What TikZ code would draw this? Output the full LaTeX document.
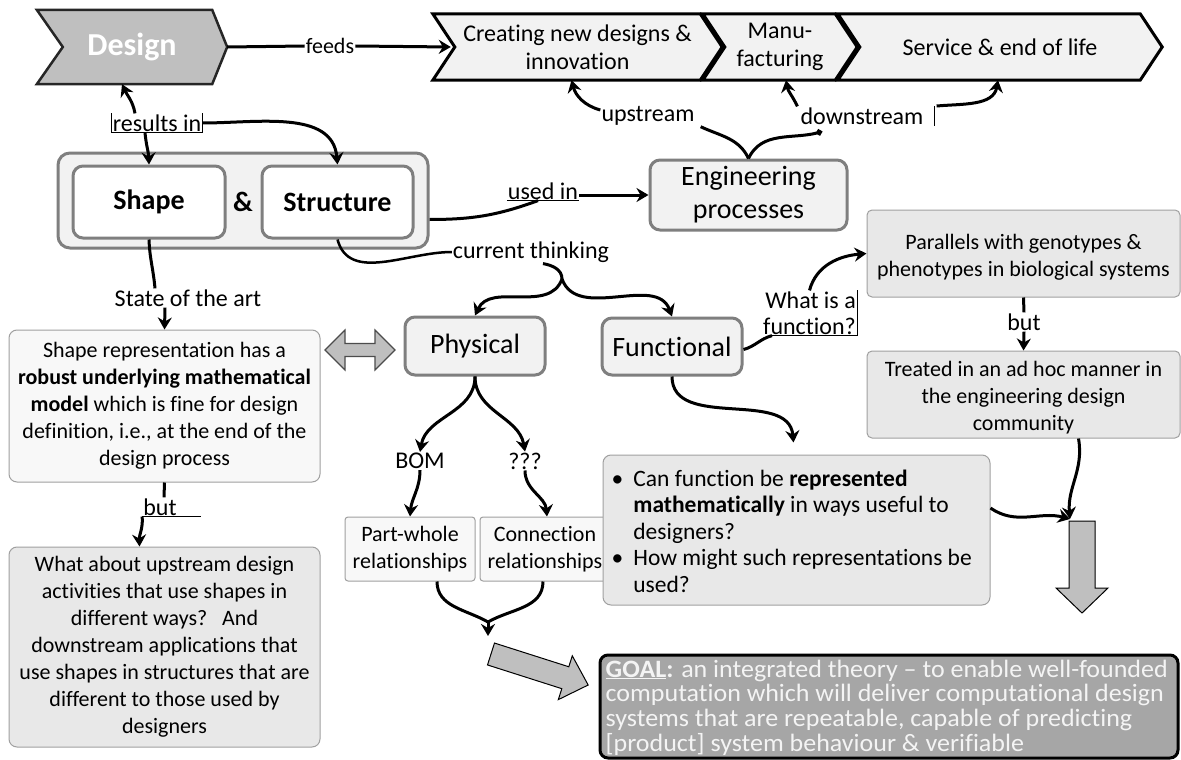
\documentclass[tikz,border=0pt]{standalone}
\usepackage{fontspec}
\setmainfont{Carlito}[Ligatures=NoCommon]
\usetikzlibrary{arrows.meta}
\definecolor{edgegray}{HTML}{7F7F7F}
\definecolor{paleface}{HTML}{F2F2F2}
\definecolor{whiteface}{HTML}{F8F8F8}
\definecolor{lightface}{HTML}{E8E8E8}
\definecolor{midface}{HTML}{BFBFBF}
\definecolor{goalface}{HTML}{A6A6A6}
\definecolor{thinedge}{HTML}{A0A0A0}
\definecolor{goaltext}{HTML}{F4F4F4}
\pgfdeclarelayer{bg}
\pgfsetlayers{bg,main}
\newcommand{\fsz}[2]{\fontsize{#1}{#2}\selectfont}
\begin{document}
\begin{tikzpicture}[x=1pt,y=-1pt,
  every node/.style={inner sep=2pt},
  body/.style={font=\fsz{22}{27}},
  lbl/.style={font=\fsz{24}{26}, inner sep=1pt},
  conn/.style={line width=3pt,-{Stealth[length=12pt,width=14pt,inset=4pt]}},
  link/.style={line width=3pt},
  hair/.style={line width=0.7pt},
  heavybox/.style={draw=edgegray, line width=3pt, rounded corners=10pt, fill=paleface, align=center, font=\fsz{28}{33}},
  lightbox/.style={draw=thinedge, line width=1pt, rounded corners=8pt, align=center, body},
  chevtext/.style={align=center, font=\fsz{24}{28}},
  blockarrow/.style={fill=midface, draw=black, line width=1pt},
]
\useasboundingbox (0,0) rectangle (1181,760);

% ---------- process chain ----------
\node[minimum width=190, minimum height=74, text=white, font=\fsz{32}{34}\bfseries] (design) at (132,47) {Design};
\node[chevtext, minimum width=289, minimum height=66] (ch1) at (577.5,47) {Creating new designs \&\\innovation};
\node[chevtext, minimum width=154, minimum height=66] (ch2) at (780,47) {Manu-\\facturing};
\node[chevtext, minimum width=324, minimum height=66] (ch3) at (1000,47) {Service \& end of life};
\begin{pgfonlayer}{bg}
  \fill[white] (0,0) rectangle (1181,760);
  \filldraw[fill=midface, draw=black!85, line width=2.5pt]
    (design.north west) -- ([xshift=-15]design.north east) -- (design.east)
    -- ([xshift=-15]design.south east) -- (design.south west) -- ([xshift=26]design.west) -- cycle;
  \foreach \c in {ch1,ch2,ch3}
    \filldraw[fill=paleface, draw=black, line width=3pt]
      (\c.north west) -- ([xshift=-22]\c.north east) -- (\c.east)
      -- ([xshift=-22]\c.south east) -- (\c.south west) -- ([xshift=22]\c.west) -- cycle;
\end{pgfonlayer}
\node[font=\fsz{22}{24}, inner sep=1pt] (feeds) at (330,46) {feeds};

% ---------- shape & structure ----------
\node[draw=edgegray, line width=3pt, rounded corners=12pt, fill=paleface, minimum width=370, minimum height=95] (group) at (243,200.5) {};
\node[draw=edgegray, line width=3pt, rounded corners=10pt, fill=white, minimum width=152, minimum height=72, font=\fsz{28}{30}\bfseries] (shapebox) at (149,202) {Shape};
\node[draw=edgegray, line width=3pt, rounded corners=10pt, fill=white, minimum width=151, minimum height=72, font=\fsz{28}{30}\bfseries] (structbox) at (337.5,202) {Structure};
\node[font=\fsz{28}{30}\bfseries] (amp) at (243,202) {\&};

\node[heavybox, minimum width=197, minimum height=70] (eng) at (748.5,195) {Engineering\\processes};
\node[heavybox, minimum width=140, minimum height=58] (phys) at (475,346) {Physical};
\node[heavybox, minimum width=140, minimum height=57] (func) at (672,346.5) {Functional};

% ---------- text boxes ----------
\node[lightbox, fill=whiteface, minimum width=311, minimum height=152] (shaperep) at (164.5,406)
  {Shape representation has a\\\textbf{robust underlying mathematical}\\\textbf{model} which is fine for design\\definition, i.e., at the end of the\\design process};
\node[lightbox, fill=lightface, minimum width=311, minimum height=200] (whatabout) at (164.5,647)
  {What about upstream design\\activities that use shapes in\\different ways?\ \ \ And\\downstream applications that\\use shapes in structures that are\\different to those used by\\designers};
\node[lightbox, fill=whiteface, rounded corners=3pt, minimum width=130, minimum height=64] (partwhole) at (410,549) {Part-whole\\relationships};
\node[lightbox, fill=whiteface, rounded corners=3pt, minimum width=130, minimum height=64] (connection) at (545,549) {Connection\\relationships};
\node[lightbox, fill=lightface, minimum width=387, minimum height=150] (bullets) at (796.5,530) {};
\node[anchor=west, inner sep=0pt, font=\fsz{23.5}{26.5}] (bullettext) at ([xshift=9,yshift=-4]bullets.west)
  {\begin{tabular}{@{}l@{\hspace{10pt}}l@{}}
   \textbullet & Can function be \textbf{represented}\\
               & \textbf{mathematically} in ways useful to\\
               & designers?\\
   \textbullet & How might such representations be\\
               & used?
   \end{tabular}};
\node[lightbox, fill=lightface, rounded corners=5pt, minimum width=313, minimum height=87] (parallels) at (1023.5,253.5) {};
\node[body, align=center] (paralleltext) at ([yshift=-4]parallels.center)
  {Parallels with genotypes \&\\phenotypes in biological systems};
\node[lightbox, fill=lightface, rounded corners=5pt, minimum width=313, minimum height=87] (treated) at (1023.5,394.5) {};
\node[body, align=center] (treatedtext) at ([yshift=-3]treated.center)
  {Treated in an ad hoc manner in\\the engineering design\\community};
\node[draw=black, line width=3pt, rounded corners=8pt, fill=goalface, minimum width=578, minimum height=103] (goal) at (889,706.5) {};
\node[anchor=north west, inner sep=0pt, text=goaltext, font=\fsz{25}{24}] (goaltxt) at ([xshift=7,yshift=-6]goal.north west)
  {\scalebox{1.04}[1]{\begin{tabular}{@{}l@{}}
   \textbf{\underline{GOAL}:} an integrated theory -- to enable well-founded\\
   computation which will deliver computational design\\
   systems that are repeatable, capable of predicting\\
   {[product]} system behaviour \& verifiable
   \end{tabular}}};

% ---------- connector labels ----------
\node[lbl] (results) at (157,123) {results in};
\node[lbl] (usedin) at (543,191) {used in};
\node[lbl] (curthink) at (531,252) {current thinking};
\node[lbl] (statart) at (188,298) {State of the art};
\node[lbl] (upstream) at (648,116) {upstream};
\node[lbl] (downstream) at (862,116) {downstream};
\node[lbl] (but1) at (160,507) {but};
\node[lbl] (but2) at (1024,322) {but};
\node[lbl] (bom) at (420,461) {BOM};
\node[lbl] (qqq) at (525,461) {???};
\node[lbl, align=right, anchor=east] (whatfunc) at (857,313) {What is a\\function?};

% ---------- connectors ----------
\draw[link] (design.east) -- (feeds.west);
\draw[conn] (feeds.east) -- ([xshift=18]ch1.west);

\draw[hair] (results.north west) -- (results.south west) -- (results.south east) -- (results.north east);
\draw[conn] ([xshift=-22]results.north) to[out=100,in=-65] ([xshift=-10]design.south);
\draw[conn] ([xshift=-12]results.south) to[out=-85,in=92] (shapebox.north);
\draw[conn] (results.east) to[out=0,in=95] (structbox.north);

\draw[link] ([yshift=-19]group.east) to[out=0,in=-160] ([xshift=-5]usedin.south);
\draw[hair] (usedin.south west) -- (usedin.south east);
\draw[conn] ([yshift=-4]usedin.east) -- (eng.west);

\draw[line width=2.5pt] (structbox.south) to[out=-75,in=180] (curthink.west);
\coordinate (ctj) at (562,279);
\draw[link] ([xshift=12]curthink.south) to[out=-10,in=90] (ctj);
\draw[conn] (ctj) to[out=-110,in=65] (phys.north);
\draw[conn] (ctj) to[out=-70,in=110] (func.north);

\draw[link] (shapebox.south) to[out=-88,in=95] ([xshift=-33]statart.north);
\draw[conn] ([xshift=-23]statart.south) -- (shaperep.north);

\filldraw[fill=midface, draw=black!70, line width=1.2pt]
  (325,350) -- (345,330) -- (345,343.5) -- (375,343.5) -- (375,330) -- (395,350)
  -- (375,370) -- (375,356.5) -- (345,356.5) -- (345,370) -- cycle;

\draw[link] (shaperep.south) -- ([xshift=4]but1.north);
\draw[hair] (but1.south west) -- ([xshift=23]but1.south east);
\draw[conn] (but1.south west) to[out=-85,in=92] ([xshift=-25]whatabout.north);

\draw[conn] (phys.south) to[out=-90,in=80] (bom.north);
\draw[conn] (phys.south) to[out=-90,in=100] (qqq.north);
\draw[conn] (bom.south) to[out=-90,in=85] (partwhole.north);
\draw[conn] (qqq.south) to[out=-90,in=95] ([xshift=2]connection.north);

\coordinate (pmj) at (488,622);
\coordinate (pmt) at (488,636);
\draw[link] ([xshift=27]partwhole.south) to[out=-90,in=150] (pmj);
\draw[link] ([xshift=-2]connection.south) to[out=-90,in=30] (pmj);
\draw[conn] (pmj) -- (pmt);

\begin{scope}[shift={(491,654)}, rotate=-17.7]
  \filldraw[blockarrow] (0,-11.5) -- (78,-11.5) -- (78,-23) -- (102,0) -- (78,23) -- (78,11.5) -- (0,11.5) -- cycle;
\end{scope}

\filldraw[blockarrow] (1069,521) -- (1095,521) -- (1095,588) -- (1108,588) -- (1082,613) -- (1056,588) -- (1069,588) -- cycle;
\coordinate (dtop) at (1070,519);

\draw[conn] (func.south) to[out=-90,in=95] ([xshift=-3,yshift=12]bullets.north);
\draw[link] ([yshift=-3]func.east) to[out=15,in=195] ([xshift=10]whatfunc.south west);
\draw[hair] ([xshift=10]whatfunc.south west) -- (whatfunc.south east) -- (whatfunc.north east);
\draw[conn] (whatfunc.north) to[out=75,in=185] (parallels.west);

\draw[link] (parallels.south) -- (but2.north);
\draw[conn] (but2.south) -- (treated.north);

\draw[conn] ([xshift=55]treated.south) to[out=-80,in=95] (dtop);
\draw[conn] ([yshift=22]bullets.east) to[out=-35,in=165] (dtop);

\draw[link] (eng.north) to[out=115,in=-25] ([xshift=5]upstream.south east);
\draw[link, -{Circle[length=6pt]}] (eng.north) to[out=65,in=195] ([xshift=-40,yshift=-6]downstream.south);
\draw[conn] ([yshift=6]upstream.west) to[out=165,in=-75] ([xshift=-6]ch1.south);
\draw[conn] ([xshift=-2]downstream.north west) to[out=115,in=-80] ([xshift=6]ch2.south);
\draw[hair] ([xshift=10]downstream.north east) -- ([xshift=10]downstream.south east);
\draw[conn] ([xshift=12,yshift=10]downstream.east) to[out=5,in=-100] ([xshift=-2]ch3.south);
\end{tikzpicture}
\end{document}
